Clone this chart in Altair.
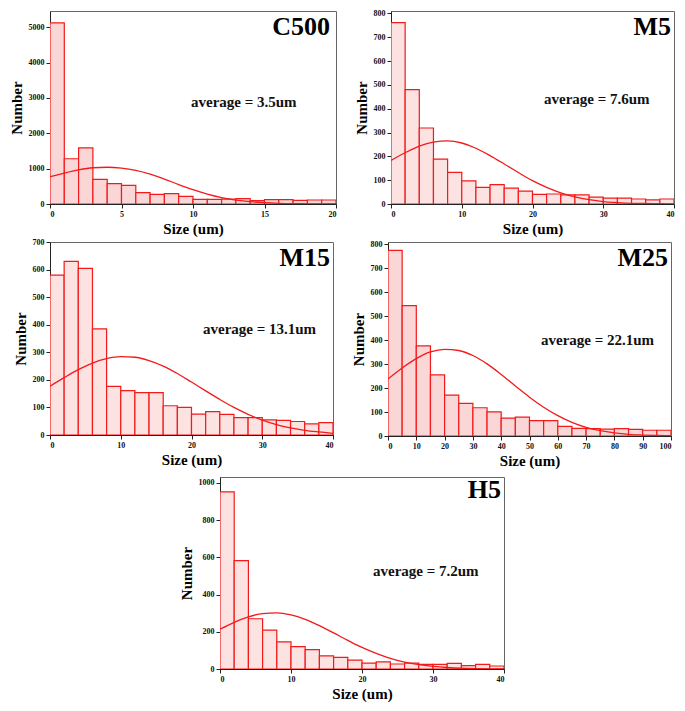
import altair as alt
import pandas as pd

# ---------------- data ----------------
c500_counts = [5125, 1280, 1585, 695, 575, 528, 320, 274, 292, 215, 132, 132, 140, 150, 94, 122, 122, 104, 113, 113]
c500_curve_x = [0, 1, 2, 3, 4, 5, 6, 7, 8, 9, 10, 11, 12, 13, 14, 15, 16, 17, 18, 19, 20]
c500_curve_y = [770, 875, 965, 1025, 1040, 1015, 950, 845, 705, 550, 405, 280, 182, 112, 66, 38, 20, 10, 5, 2, 1]

m5_counts = [761, 480, 319, 188, 133, 97, 70, 81, 67, 54, 40, 42, 38, 38, 29, 25, 25, 21, 17, 21]
m5_curve_x = [0, 2, 4, 6, 8, 10, 12, 14, 16, 18, 20, 22, 24, 26, 28, 30, 32, 34, 36, 38, 40]
m5_curve_y = [183, 215, 243, 260, 265, 256, 234, 203, 168, 132, 98, 70, 47, 30, 18, 10, 6, 3, 2, 1, 0]

m15_counts = [580, 630, 604, 385, 176, 161, 154, 154, 106, 100, 76, 85, 75, 63, 63, 55, 53, 49, 40, 45]
m15_curve_x = [0, 2, 4, 6, 8, 10, 12, 14, 16, 18, 20, 22, 24, 26, 28, 30, 32, 34, 36, 38, 40]
m15_curve_y = [177, 208, 237, 261, 277, 284, 282, 270, 250, 223, 192, 160, 129, 100, 75, 54, 38, 26, 17, 11, 6]

m25_counts = [775, 544, 376, 255, 171, 136, 118, 101, 75, 79, 64, 64, 40, 32, 31, 29, 31, 28, 24, 24]
m25_curve_x = [0, 5, 10, 15, 20, 25, 30, 35, 40, 45, 50, 55, 60, 65, 70, 75, 80, 85, 90, 95, 100]
m25_curve_y = [238, 284, 323, 351, 362, 357, 336, 301, 257, 209, 162, 120, 85, 57, 36, 22, 13, 7, 4, 2, 1]

h5_counts = [952, 582, 270, 209, 146, 120, 104, 71, 63, 48, 32, 38, 27, 32, 25, 25, 30, 18, 25, 16]
h5_curve_x = [0, 2, 4, 6, 8, 10, 12, 14, 16, 18, 20, 22, 24, 26, 28, 30, 32, 34, 36, 38, 40]
h5_curve_y = [214, 251, 280, 298, 302, 291, 267, 233, 194, 154, 116, 84, 57, 37, 23, 14, 8, 4, 2, 1, 0.5]

names = ["C500", "M5", "M15", "M25", "H5"]
averages = ["average = 3.5um", "average = 7.6um", "average = 13.1um", "average = 22.1um", "average = 7.2um"]
bin_widths = [1, 2, 2, 5, 2]
x_max = [20, 40, 40, 100, 40]
y_max = [5460, 810, 700, 810, 1032]
x_ticks = [[0, 5, 10, 15, 20], [0, 10, 20, 30, 40], [0, 10, 20, 30, 40],
           [0, 10, 20, 30, 40, 50, 60, 70, 80, 90, 100], [0, 10, 20, 30, 40]]
y_ticks = [[0, 1000, 2000, 3000, 4000, 5000], [0, 100, 200, 300, 400, 500, 600, 700, 800],
           [0, 100, 200, 300, 400, 500, 600, 700], [0, 100, 200, 300, 400, 500, 600, 700, 800],
           [0, 200, 400, 600, 800, 1000]]

RED = "#f21a1a"
FONT = "Liberation Serif"


def panel(i, counts, cx, cy, w, h, fill, avg_pos, lab_pos):
    bw = bin_widths[i]
    df = pd.DataFrame({
        "start": [k * bw for k in range(len(counts))],
        "end": [(k + 1) * bw for k in range(len(counts))],
        "count": counts,
        "base": [0] * len(counts),
    })
    xs = alt.Scale(domain=[0, x_max[i]], nice=False, zero=False)
    ys = alt.Scale(domain=[0, y_max[i]], nice=False)
    xa = alt.Axis(values=x_ticks[i], title="Size (um)", format="d", labelOverlap=False,
                  labelSeparation=0, labelBound=False, tickCount=len(x_ticks[i]))
    ya = alt.Axis(values=y_ticks[i], title="Number", format="d", labelOverlap=False,
                  labelSeparation=0, labelBound=False, tickCount=len(y_ticks[i]))
    bars = alt.Chart(df).mark_bar(fill=fill, stroke=RED, strokeWidth=1.2, clip=True).encode(
        x=alt.X("start:Q", scale=xs, axis=xa),
        x2="end:Q",
        y=alt.Y("count:Q", scale=ys, axis=ya),
        y2="base:Q",
    )
    cdf = pd.DataFrame({"x": cx, "y": cy})
    line = alt.Chart(cdf).mark_line(color=RED, strokeWidth=1.3, interpolate="monotone", clip=True).encode(
        x=alt.X("x:Q", scale=xs, axis=xa), y=alt.Y("y:Q", scale=ys, axis=ya)
    )
    lab = alt.Chart(pd.DataFrame({"t": [names[i]]})).mark_text(
        font=FONT, fontWeight="bold", fontSize=26, align="right", baseline="alphabetic", color="#000"
    ).encode(text="t:N", x=alt.value(lab_pos[0]), y=alt.value(lab_pos[1]))
    avg = alt.Chart(pd.DataFrame({"t": [averages[i]]})).mark_text(
        font=FONT, fontWeight="bold", fontSize=15, align="left", baseline="alphabetic", color="#111"
    ).encode(text="t:N", x=alt.value(avg_pos[0]), y=alt.value(avg_pos[1]))
    return alt.layer(bars, line, lab, avg).properties(width=w, height=h)


DENSE = "#fbd6d6"
SPARSE = "#fde2e2"

c500 = panel(0, c500_counts, c500_curve_x, c500_curve_y, 286, 193, DENSE, (141, 96), (280, 24))
m5 = panel(1, m5_counts, m5_curve_x, m5_curve_y, 283, 193, SPARSE, (153, 93), (280, 24))
m15 = panel(2, m15_counts, m15_curve_x, m15_curve_y, 283, 193, SPARSE, (153, 92), (280, 24))
m25 = panel(3, m25_counts, m25_curve_x, m25_curve_y, 283, 194, DENSE, (153, 103), (280, 24))
h5 = panel(4, h5_counts, h5_curve_x, h5_curve_y, 284, 192, SPARSE, (153, 99), (281, 21))

row1 = alt.hconcat(c500, m5, spacing=16)
row2 = alt.hconcat(m15, m25, spacing=16)
top = alt.vconcat(row1, row2, spacing=0)

chart = alt.vconcat(top, h5, spacing=7, center=True).properties(
    padding={"left": 0, "top": 0, "right": 2, "bottom": 2}
).configure_axis(
    labelFont=FONT, labelFontWeight="bold", labelFontSize=8, labelColor="#111",
    titleFont=FONT, titleFontWeight="bold", titleFontSize=15, titleColor="#000",
    domainColor="#222", tickColor="#222", tickSize=4, grid=False, labelPadding=2,
    labelOverlap=False,
).configure_axisY(titlePadding=4).configure_axisX(titlePadding=3).configure_view(
    stroke="#666", strokeWidth=1
)

chart.save("out.html", embed_options={"renderer": "svg", "actions": False})
